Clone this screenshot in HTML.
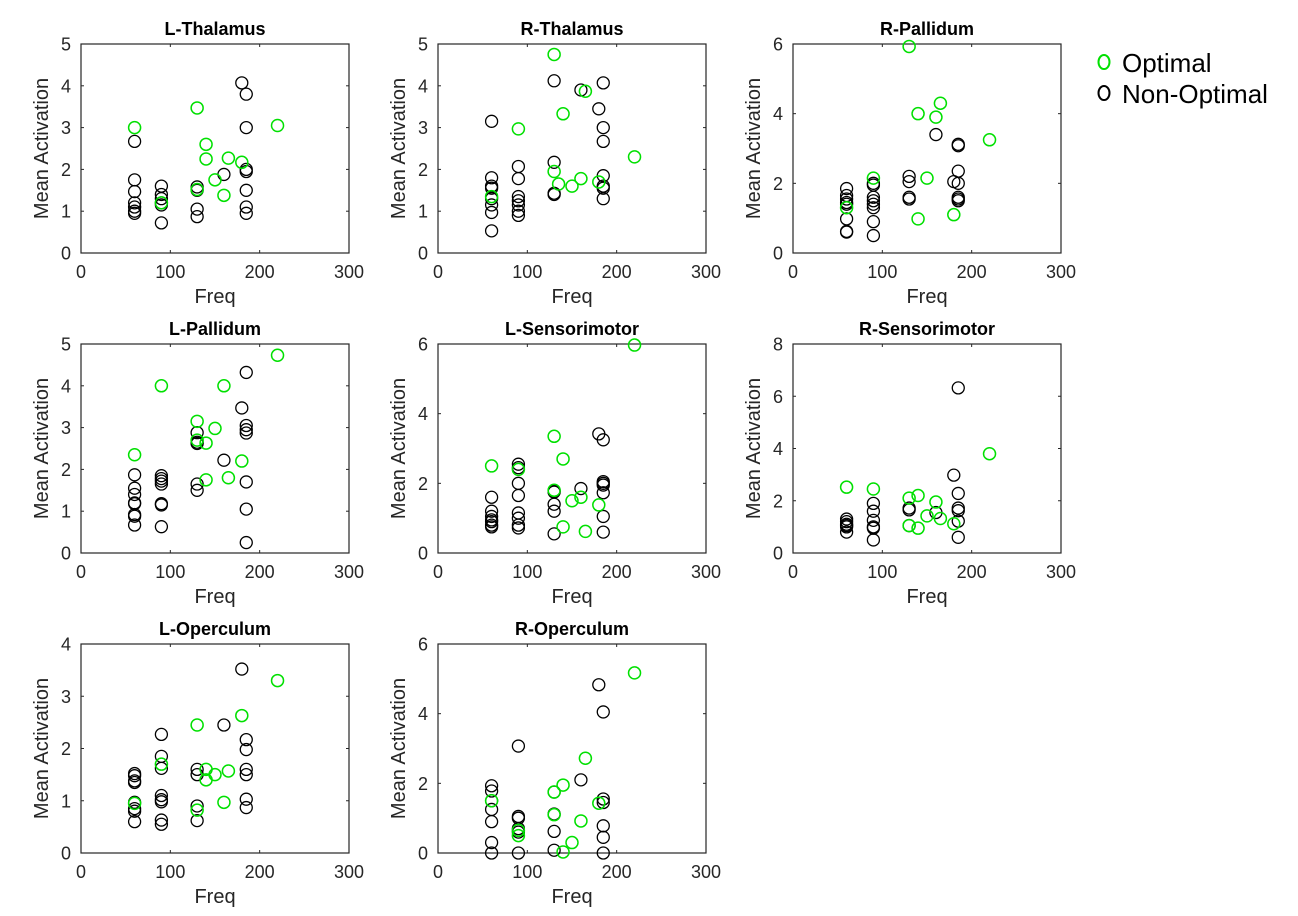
<!DOCTYPE html>
<html><head><meta charset="utf-8"><style>
html,body{margin:0;padding:0;background:#fff;}
svg{display:block;}
text{font-family:"Liberation Sans",sans-serif;}
</style></head><body>
<svg id="fig" width="1298" height="916" viewBox="0 0 1298 916" xmlns="http://www.w3.org/2000/svg"></svg>
<script>
// ---- data ----
const titles = ["L-Thalamus","R-Thalamus","R-Pallidum","L-Pallidum","L-Sensorimotor","R-Sensorimotor","L-Operculum","R-Operculum"];
const yMaxes = [5,5,6,5,6,8,4,6];
const yStep = [1,1,2,1,2,2,1,2];
const xTicks = [0,100,200,300];
const optX = [
 [60,130,140,140,150,160,165,180,220,90,130],
 [60,90,130,130,140,135,150,160,165,180,220],
 [60,90,130,140,140,150,160,165,180,220],
 [60,90,130,130,140,140,150,160,165,180,220],
 [60,90,130,130,140,140,150,160,165,180,220],
 [60,90,130,130,140,140,150,160,165,180,220],
 [60,90,130,130,140,140,150,160,165,180,220],
 [60,90,90,130,130,140,140,150,160,165,180,220]
];
const optY = [
 [3.0,3.47,2.6,2.25,1.75,1.38,2.27,2.17,3.05,1.2,1.52],
 [1.35,2.97,4.75,1.95,3.33,1.65,1.6,1.78,3.87,1.7,2.3],
 [1.3,2.15,5.93,4.0,0.98,2.15,3.9,4.3,1.1,3.25],
 [2.35,4.0,3.15,2.7,2.63,1.75,2.98,4.0,1.8,2.2,4.73],
 [2.5,2.4,3.35,1.8,2.7,0.75,1.5,1.6,0.62,1.38,5.97],
 [2.52,2.45,2.1,1.05,2.2,0.95,1.42,1.95,1.32,1.12,3.8],
 [0.95,1.7,2.45,0.82,1.6,1.4,1.5,0.97,1.57,2.63,3.3],
 [1.5,0.65,0.5,1.75,1.1,1.95,0.03,0.3,0.92,2.72,1.43,5.17]
];
const nonX = [
 [60,60,60,60,60,60,60,90,90,90,90,90,90,130,130,130,130,160,180,185,185,185,185,185,185,185],
 [60,60,60,60,60,60,60,60,90,90,90,90,90,90,90,130,130,130,130,160,180,185,185,185,185,185,185,185],
 [60,60,60,60,60,60,60,60,90,90,90,90,90,90,90,90,130,130,130,130,160,180,185,185,185,185,185,185,185],
 [60,60,60,60,60,60,60,60,90,90,90,90,90,90,90,130,130,130,130,130,160,180,185,185,185,185,185,185,185],
 [60,60,60,60,60,60,60,90,90,90,90,90,90,90,90,130,130,130,130,130,160,180,185,185,185,185,185,185,185],
 [60,60,60,60,60,60,90,90,90,90,90,90,130,130,130,160,180,185,185,185,185,185,185],
 [60,60,60,60,60,60,60,60,90,90,90,90,90,90,90,90,130,130,130,130,160,180,185,185,185,185,185,185],
 [60,60,60,60,60,60,60,90,90,90,90,90,90,130,130,130,130,160,180,185,185,185,185,185,185]
];
const nonY = [
 [2.67,1.75,1.47,1.2,1.1,1.0,0.95,1.6,1.4,1.3,1.2,1.15,0.72,1.58,1.5,1.05,0.87,1.88,4.07,3.8,3.0,2.0,1.95,1.5,1.1,0.95],
 [3.15,1.8,1.6,1.55,1.3,1.15,0.97,0.53,2.07,1.78,1.35,1.25,1.15,1.0,0.9,4.12,2.17,1.43,1.4,3.9,3.45,4.07,3.0,2.67,1.85,1.6,1.55,1.3],
 [1.85,1.65,1.55,1.45,1.4,0.98,0.62,0.6,2.0,1.95,1.6,1.5,1.4,1.3,0.9,0.5,2.2,2.05,1.6,1.55,3.4,2.05,3.12,3.08,2.35,2.0,1.6,1.55,1.5],
 [1.87,1.55,1.4,1.2,1.18,0.92,0.88,0.67,1.85,1.78,1.72,1.65,1.18,1.15,0.63,2.88,2.65,2.62,1.65,1.5,2.22,3.47,4.32,3.05,2.95,2.87,1.7,1.05,0.25],
 [1.6,1.2,1.05,0.95,0.9,0.8,0.75,2.55,2.45,2.0,1.65,1.15,1.0,0.8,0.72,1.78,1.75,1.4,1.2,0.55,1.85,3.42,3.25,2.05,2.0,1.95,1.73,1.05,0.6],
 [1.3,1.2,1.1,1.05,1.0,0.8,1.9,1.6,1.25,1.0,0.95,0.5,1.72,1.65,1.05,1.55,2.98,6.32,2.28,1.72,1.62,1.22,0.6],
 [1.52,1.48,1.38,1.35,0.97,0.85,0.8,0.6,2.27,1.85,1.62,1.1,1.02,0.98,0.63,0.55,1.6,1.5,0.9,0.62,2.45,3.52,2.17,1.98,1.6,1.5,1.03,0.87],
 [1.93,1.78,1.5,1.25,0.9,0.3,0.0,3.07,1.05,1.0,0.7,0.6,0.0,1.75,1.12,0.62,0.08,2.1,4.83,4.05,1.55,1.45,0.78,0.45,0.0]
];
// ---- drawing ----
const NS = "http://www.w3.org/2000/svg";
const svg = document.getElementById('fig');
function mk(tag, attrs, parent){ const e=document.createElementNS(NS,tag); for(const k in attrs) e.setAttribute(k,attrs[k]); (parent||svg).appendChild(e); return e; }
const lefts=[81,438,793], tops=[44,344,644], W=268, H=209;
titles.forEach((t,i)=>{
  const L=lefts[i%3], T=tops[Math.floor(i/3)], B=T+H, R=L+W;
  const g=mk('g',{});
  
  
  const xs=v=>L+v/300*W, ys=v=>B-v/yMaxes[i]*H;
  const bx=mk('rect',{x:L,y:T,width:W,height:H,fill:'#fff',stroke:'#262626','stroke-width':1.2},g);
  
  
  xTicks.forEach(v=>{
    const x=xs(v);
    mk('line',{x1:x,y1:B,x2:x,y2:B-3,stroke:'#262626','stroke-width':1},g);
    mk('line',{x1:x,y1:T,x2:x,y2:T+3,stroke:'#262626','stroke-width':1},g);
    const tl=mk('text',{x:x,y:B+25,'font-size':18,fill:'#262626','text-anchor':'middle'},g);
    tl.textContent=v;
    
    
  });
  for(let v=0; v<=yMaxes[i]; v+=yStep[i]){
    const y=ys(v);
    mk('line',{x1:L,y1:y,x2:L+3,y2:y,stroke:'#262626','stroke-width':1},g);
    mk('line',{x1:R,y1:y,x2:R-3,y2:y,stroke:'#262626','stroke-width':1},g);
    const tl=mk('text',{x:L-10,y:y+6.5,'font-size':18,fill:'#262626','text-anchor':'end'},g);
    tl.textContent=v;
    
    
  }
  const tt=mk('text',{x:L+W/2,y:T-9,'font-size':18,'font-weight':'bold',fill:'#000','text-anchor':'middle'},g);
  tt.textContent=t;
  
  
  const xl=mk('text',{x:L+W/2,y:B+50,'font-size':20,fill:'#262626','text-anchor':'middle'},g);
  xl.textContent='Freq';
  
  
  const yl=mk('text',{x:0,y:0,'font-size':20,fill:'#262626','text-anchor':'middle',transform:`translate(${L-33},${T+H/2}) rotate(-90)`},g);
  yl.textContent='Mean Activation';
  
  
  nonX[i].forEach((x,j)=>{
    const c=mk('circle',{cx:xs(x),cy:ys(nonY[i][j]),r:6,fill:'none',stroke:'#000','stroke-width':1.3},g);
    
    
  });
  optX[i].forEach((x,j)=>{
    const c=mk('circle',{cx:xs(x),cy:ys(optY[i][j]),r:6,fill:'none',stroke:'#00e000','stroke-width':1.5},g);
    
    
  });
});
// legend
const lg=mk('g',{});


const e1=mk('ellipse',{cx:1104,cy:62,rx:5.5,ry:7,fill:'none',stroke:'#00e000','stroke-width':2},lg);


const t1=mk('text',{x:1122,y:72,'font-size':26,fill:'#000'},lg);
t1.textContent='Optimal';


const e2=mk('ellipse',{cx:1104,cy:93,rx:5.5,ry:7,fill:'none',stroke:'#000','stroke-width':2},lg);


const t2=mk('text',{x:1122,y:103,'font-size':26,fill:'#000'},lg);
t2.textContent='Non-Optimal';


</script>
</body></html>
